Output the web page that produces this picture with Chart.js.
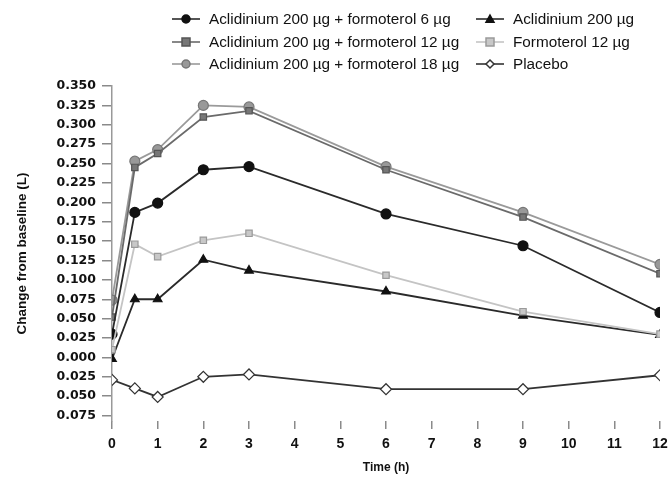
<!DOCTYPE html>
<html>
<head>
<meta charset="utf-8">
<script src="https://cdn.jsdelivr.net/npm/chart.js@4/dist/chart.umd.min.js"></script>
<style>
  html, body { margin: 0; padding: 0; background: #fff; }
  #wrap { width: 670px; height: 477px; }
</style>
</head>
<body>
<div id="wrap"><canvas id="chart" width="670" height="477"></canvas></div>
<script>
// Time points (h)
const timePoints = [0, 0.5, 1, 2, 3, 6, 9, 12];

// Change from baseline (L)
const aclForm6 = [0.030, 0.187, 0.199, 0.242, 0.246, 0.185, 0.144, 0.058];
const aclForm12 = [0.052, 0.245, 0.263, 0.310, 0.318, 0.242, 0.181, 0.108];
const aclForm18 = [0.074, 0.253, 0.268, 0.325, 0.323, 0.246, 0.187, 0.120];
const acl200 = [-0.002, 0.075, 0.075, 0.126, 0.112, 0.085, 0.054, 0.029];
const form12 = [0.010, 0.146, 0.130, 0.151, 0.160, 0.106, 0.059, 0.030];
const placebo = [-0.029, -0.040, -0.051, -0.025, -0.022, -0.041, -0.041, -0.023];

const seriesLabels = [
  "Aclidinium 200 \u00b5g + formoterol 6 \u00b5g",
  "Aclidinium 200 \u00b5g",
  "Aclidinium 200 \u00b5g + formoterol 12 \u00b5g",
  "Formoterol 12 \u00b5g",
  "Aclidinium 200 \u00b5g + formoterol 18 \u00b5g",
  "Placebo",
];

const toPoints = (vals) => vals.map((v, i) => ({ x: timePoints[i], y: v }));

const FONT = "'Liberation Sans', Arial, sans-serif";

// legend drawn on the canvas in two columns, three rows
const legendSlots = [
  { x: 172, y: 19 }, { x: 476, y: 19 },
  { x: 172, y: 42 }, { x: 476, y: 42 },
  { x: 172, y: 64 }, { x: 476, y: 64 },
];

function drawMarker(ctx, style, r, x, y, fill, stroke) {
  ctx.save();
  ctx.fillStyle = fill;
  ctx.strokeStyle = stroke;
  ctx.lineWidth = 1.5;
  ctx.beginPath();
  if (style === "circle") {
    ctx.arc(x, y, r, 0, Math.PI * 2);
  } else if (style === "rect") {
    ctx.rect(x - r, y - r, r * 2, r * 2);
  } else if (style === "triangle") {
    ctx.moveTo(x, y - r);
    ctx.lineTo(x + r, y + r * 0.8);
    ctx.lineTo(x - r, y + r * 0.8);
    ctx.closePath();
  } else if (style === "rectRot") {
    ctx.moveTo(x, y - r);
    ctx.lineTo(x + r, y);
    ctx.lineTo(x, y + r);
    ctx.lineTo(x - r, y);
    ctx.closePath();
  }
  ctx.fill();
  ctx.stroke();
  ctx.restore();
}

const legendPlugin = {
  id: "gridLegend",
  afterDraw(chart) {
    const ctx = chart.ctx;
    chart.data.datasets.forEach((ds) => {
      const slot = legendSlots[ds.legendSlot];
      ctx.save();
      ctx.strokeStyle = ds.borderColor;
      ctx.lineWidth = 1.6;
      ctx.beginPath();
      ctx.moveTo(slot.x, slot.y);
      ctx.lineTo(slot.x + 28, slot.y);
      ctx.stroke();
      ctx.restore();
      drawMarker(ctx, ds.pointStyle, 4, slot.x + 14, slot.y, ds.pointBackgroundColor, ds.pointBorderColor);
      ctx.save();
      ctx.fillStyle = "#111";
      ctx.font = "15.3px " + FONT;
      ctx.textBaseline = "middle";
      ctx.fillText(ds.label, slot.x + 37, slot.y + 1);
      ctx.restore();
    });
  },
};

function makeSet(label, vals, slot, line, fill, edge, style, radius) {
  return {
    label: label,
    data: toPoints(vals),
    legendSlot: slot,
    borderColor: line,
    borderWidth: 1.8,
    pointStyle: style,
    pointRadius: radius,
    pointBackgroundColor: fill,
    pointBorderColor: edge,
    pointBorderWidth: 1.2,
    tension: 0,
  };
}

const datasets = [
  makeSet(seriesLabels[5], placebo, 5, "#333", "#fff", "#333", "rectRot", 5.5),
  makeSet(seriesLabels[3], form12, 3, "#c4c4c4", "#c8c8c8", "#9a9a9a", "rect", 4.5),
  makeSet(seriesLabels[1], acl200, 1, "#2a2a2a", "#111", "#111", "triangle", 5),
  makeSet(seriesLabels[0], aclForm6, 0, "#2a2a2a", "#111", "#111", "circle", 5),
  makeSet(seriesLabels[2], aclForm12, 2, "#6a6a6a", "#777", "#555", "rect", 4.5),
  makeSet(seriesLabels[4], aclForm18, 4, "#9a9a9a", "#999", "#777", "circle", 5),
];

new Chart(document.getElementById("chart"), {
  type: "line",
  data: { datasets: datasets },
  plugins: [legendPlugin],
  options: {
    responsive: false,
    animation: false,
    layout: { padding: { top: 86, right: 0, left: 0, bottom: 0 } },
    plugins: {
      legend: { display: false },
      tooltip: { enabled: false },
    },
    scales: {
      x: {
        type: "linear",
        min: 0,
        max: 12,
        afterFit: (s) => { s.height = 56; s.paddingRight = 10; },
        ticks: {
          stepSize: 1,
          padding: 7,
          color: "#111",
          font: { family: FONT, size: 14, weight: "bold" },
          maxRotation: 0,
        },
        grid: { display: true, drawOnChartArea: false, drawTicks: true, tickLength: 8, color: "#8a8a8a", lineWidth: 1.5 },
        border: { display: false },
        title: {
          display: true,
          text: "Time (h)",
          color: "#111",
          font: { family: FONT, size: 12, weight: "bold" },
          padding: { top: 0, bottom: 2 },
        },
      },
      y: {
        type: "linear",
        min: -0.082,
        max: 0.35,
        afterFit: (s) => { s.width = 112; },
        afterBuildTicks: (s) => {
          s.ticks = s.ticks.filter((t) => Math.abs(t.value / 0.025 - Math.round(t.value / 0.025)) < 1e-6);
        },
        ticks: {
          stepSize: 0.025,
          includeBounds: false,
          padding: 6,
          color: "#111",
          font: { family: "'DejaVu Sans', sans-serif", size: 12.5, weight: "bold" },
          callback: (v) => Math.abs(v).toFixed(3),
        },
        grid: { display: true, drawOnChartArea: false, drawTicks: true, tickLength: 10, color: "#8a8a8a", lineWidth: 1.5 },
        border: { display: true, color: "#999", width: 1.5 },
        title: {
          display: true,
          text: "Change from baseline (L)",
          color: "#111",
          font: { family: FONT, size: 13.5, weight: "bold" },
          padding: { top: 14, bottom: 0 },
        },
      },
    },
  },
});
</script>
</body>
</html>
